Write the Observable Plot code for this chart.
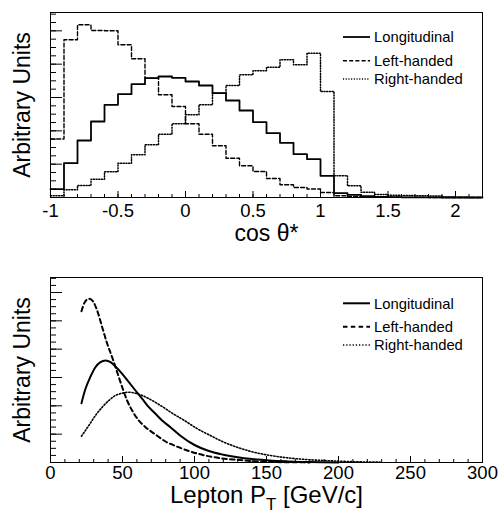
<!DOCTYPE html>
<html><head><meta charset="utf-8">
<script src="https://cdn.jsdelivr.net/npm/d3@7"></script>
<script src="https://cdn.jsdelivr.net/npm/@observablehq/plot@0.6"></script>
<style>
body{margin:0;background:#fff;}
#chart{width:499px;height:515px;overflow:hidden;}
svg{display:block;}
</style></head><body><div id="chart"></div>
<script>
const FONT = "'Liberation Sans', Arial, Helvetica, sans-serif";

// ---------- Top panel: cos theta* histograms (bin low edges, width 0.1) ----------
const cosBins = [-1.0,-0.9,-0.8,-0.7,-0.6,-0.5,-0.4,-0.3,-0.2,-0.1,0.0,0.1,0.2,0.3,0.4,0.5,0.6,0.7,0.8,0.9,1.0,1.1,1.2,1.3,1.4,1.5,1.6,1.7,1.8,1.9,2.0,2.1];
const cosBinWidth = 0.1;
const longCos  = [8.3,34.3,57,76,92.7,103.3,113.3,119.3,121,119.7,116,112,104.3,97,87,75.3,64.3,54.7,43.3,38.3,21.7,4.3,2.7,1.3,0.6,0.3,0.2,0.1,0.1,0,0,0];
const leftCos  = [58.5,157.7,172.7,167,166.7,152.7,138.7,119.3,102.7,91,73.7,63.3,51.7,39.3,31.7,26,19,12.7,10,8.5,5,1.7,1,0.6,0.3,0.2,0.1,0.1,0,0,0,0];
const rightCos = [1.7,7.7,12,18.3,25.7,34.3,42.7,52.7,63.3,73.7,82.7,92.7,104.3,112,122.7,126.7,130.3,137.7,132.7,144.3,106,21.7,11.7,5.3,3,2.3,2,1.7,1.5,0.5,0.2,0];
const cosTickLabels = [-1, -0.5, 0, 0.5, 1, 1.5, 2];

// ---------- Bottom panel: lepton pT distributions ----------
const ptLong  = [21.5,24.3,27.8,31.2,34.7,38.2,41.7,45.1,49.8,54.4,59,63.7,68.3,72.9,77.5,83.3,90,100,110,120,130,140,152,165,180,200];
const valLong = [59.3,73.7,86,95.3,100.3,102,100.3,96,88.7,80.3,72,63.7,55.3,48.7,42,35.3,27,17.5,11.5,7.8,5.2,3.4,2,1.1,0.4,0.1];
const ptLeft  = [21.5,23.8,26.6,29.4,32.4,35.9,39.4,42.8,46.3,49.8,53.2,56.7,61.3,66,72.9,79.9,86.8,95,106.5,118,129.6,141,157,180];
const valLeft = [151.3,160.3,163.7,161.3,152,135.3,118.7,105.3,90.3,75.3,62,52,42,35.3,28,21,16.5,12,7.3,4.3,2.7,1.3,0.4,0.1];
const ptRight = [21.5,26.6,31.2,35.9,40.5,45.1,49.8,54.4,59,63.7,70.6,77.5,84.5,93,102,111,120.4,129.6,141.2,152.8,164.4,180.6,194.4,210,230];
const valRight= [26.3,37,47,55.3,62,67,69.3,70.3,69.3,67,62,56,49.3,42,33.7,27,20.3,15.3,10.3,7,4.7,2.7,1.7,0.8,0.3];
const ptTickLabels = [0, 50, 100, 150, 200, 250, 300];

const seriesNames = ["Longitudinal", "Left-handed", "Right-handed"];

function stepData(vals) {
  const pts = cosBins.map((x, i) => ({x, y: vals[i]}));
  pts.push({x: cosBins[cosBins.length - 1] + cosBinWidth, y: vals[vals.length - 1]});
  return pts;
}
function curveData(xs, ys) { return xs.map((x, i) => ({x, y: ys[i]})); }

const blank = () => "";
const axisCommon = {stroke: "#000", label: null, fontSize: 18.5};

function addLegend(svg, ys, styles) {
  const g = d3.select(svg).append("g").attr("font-family", FONT).attr("font-size", 14.8)
    .attr("fill", "#000").attr("text-anchor", "start");
  seriesNames.forEach((name, i) => {
    g.append("line").attr("x1", 343).attr("x2", 370).attr("y1", ys[i]).attr("y2", ys[i])
      .attr("stroke", "#000").attr("stroke-width", styles[i].w).attr("stroke-dasharray", styles[i].dash);
    g.append("text").attr("x", 374).attr("y", ys[i]).attr("dy", "0.36em").text(name);
  });
}

const DOT_TOP = "1.1,1.6", DASH_TOP = "4,2.2";
const DOT_BOT = "1.3,1.9", DASH_BOT = "4.5,3.3";

// ---------- Top plot ----------
const yTop = 185;
const topPlot = Plot.plot({
  width: 499, height: 257,
  marginTop: 12, marginBottom: 60, marginLeft: 50, marginRight: 17,
  x: {domain: [-1, 2.2], label: null},
  y: {domain: [0, yTop], label: null},
  style: {fontFamily: FONT, color: "#000", background: "white", overflow: "visible"},
  marks: [
    Plot.axisX(d3.range(-1, 2.201, 0.1), {...axisCommon, tickSize: -3, tickFormat: blank}),
    Plot.axisX(cosTickLabels, {...axisCommon, tickSize: -6, tickPadding: 12.5, tickFormat: d => String(d)}),
    Plot.axisY(d3.range(0, yTop, 100 / 12), {...axisCommon, tickSize: -6, tickFormat: blank}),
    Plot.axisY(d3.range(0, yTop, 100 / 3), {...axisCommon, tickSize: -12, tickFormat: blank}),
    Plot.line(stepData(rightCos), {x: "x", y: "y", curve: "step-after", stroke: "#000", strokeWidth: 1.5, strokeDasharray: DOT_TOP}),
    Plot.line(stepData(leftCos), {x: "x", y: "y", curve: "step-after", stroke: "#000", strokeWidth: 1.4, strokeDasharray: DASH_TOP}),
    Plot.line(stepData(longCos), {x: "x", y: "y", curve: "step-after", stroke: "#000", strokeWidth: 1.8}),
    Plot.frame({stroke: "#000", strokeWidth: 1}),
    Plot.text(["cos θ*"], {frameAnchor: "bottom", lineAnchor: "middle", textAnchor: "middle", dx: 0, dy: 36, fontSize: 23, fill: "#000"}),
    Plot.text(["Arbitrary Units"], {frameAnchor: "left", lineAnchor: "middle", textAnchor: "middle", rotate: -90, dx: -27.5, fontSize: 23, fill: "#000"})
  ]
});
addLegend(topPlot, [37, 60.8, 79], [{w: 1.8, dash: null}, {w: 1.4, dash: DASH_TOP}, {w: 1.5, dash: DOT_TOP}]);

// ---------- Bottom plot ----------
const yBot = 185;
const xTitle = "Lepton PT [GeV/c]";
const botPlot = Plot.plot({
  width: 499, height: 258,
  marginTop: 20, marginBottom: 53, marginLeft: 50, marginRight: 17,
  x: {domain: [0, 300], label: null},
  y: {domain: [0, yBot], label: null},
  style: {fontFamily: FONT, color: "#000", background: "white", overflow: "visible"},
  marks: [
    Plot.axisX(d3.range(0, 300.1, 10), {...axisCommon, tickSize: -3, tickFormat: blank}),
    Plot.axisX(ptTickLabels, {...axisCommon, tickSize: -6, tickPadding: 9, tickFormat: d => String(d)}),
    Plot.axisY(d3.range(0, yBot, 85 / 12), {...axisCommon, tickSize: -6, tickFormat: blank}),
    Plot.axisY(d3.range(0, yBot, 85 / 3), {...axisCommon, tickSize: -12, tickFormat: blank}),
    Plot.line(curveData(ptRight, valRight), {x: "x", y: "y", curve: "monotone-x", stroke: "#000", strokeWidth: 1.6, strokeDasharray: DOT_BOT}),
    Plot.line(curveData(ptLeft, valLeft), {x: "x", y: "y", curve: "monotone-x", stroke: "#000", strokeWidth: 2, strokeDasharray: DASH_BOT}),
    Plot.line(curveData(ptLong, valLong), {x: "x", y: "y", curve: "monotone-x", stroke: "#000", strokeWidth: 2}),
    Plot.frame({stroke: "#000", strokeWidth: 1}),
    Plot.text([xTitle], {frameAnchor: "bottom", lineAnchor: "middle", textAnchor: "middle", dx: 0, dy: 32.5, fontSize: 24, fill: "#000"}),
    Plot.text(["Arbitrary Units"], {frameAnchor: "left", lineAnchor: "middle", textAnchor: "middle", rotate: -90, dx: -27.5, fontSize: 23, fill: "#000"})
  ]
});
addLegend(botPlot, [46.3, 69.7, 88], [{w: 2, dash: null}, {w: 2, dash: DASH_BOT}, {w: 1.6, dash: DOT_BOT}]);

// subscript T in the x title
d3.select(botPlot).selectAll("text").filter(function() { return this.textContent === xTitle; })
  .each(function() {
    const t = d3.select(this);
    t.text(null);
    t.append("tspan").text("Lepton P");
    t.append("tspan").attr("font-size", "70%").attr("dy", "0.45em").text("T");
    t.append("tspan").attr("dy", "-0.32em").text(" [GeV/c]");
  });

const chart = document.getElementById("chart");
chart.appendChild(topPlot);
chart.appendChild(botPlot);
</script></body></html>
